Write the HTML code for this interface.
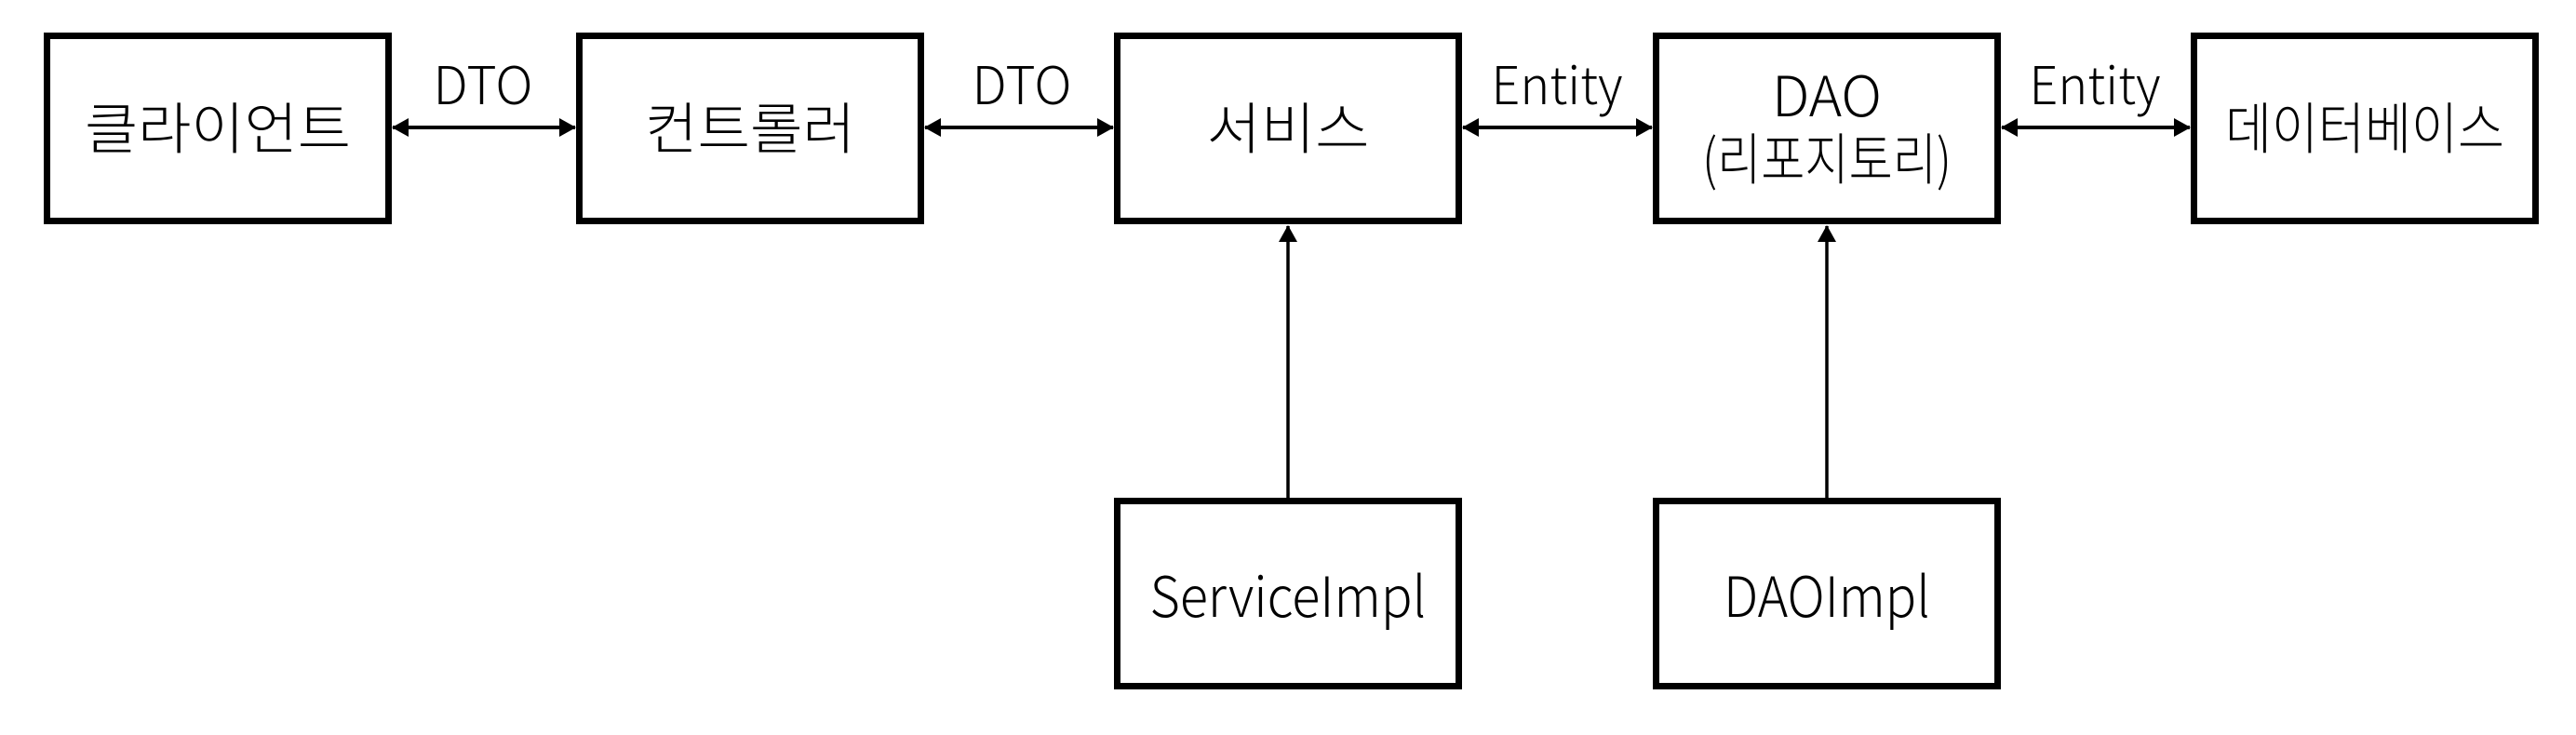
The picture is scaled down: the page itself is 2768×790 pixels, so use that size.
<!DOCTYPE html>
<html><head><meta charset="utf-8"><style>
html,body{margin:0;padding:0;background:#fff;}
svg{display:block;}
text{font-family:"Noto Sans CJK KR","Liberation Sans",sans-serif;fill:#000;font-weight:300;}
</style></head><body>
<svg width="2768" height="790" viewBox="0 0 2768 790" xmlns="http://www.w3.org/2000/svg">
<defs>
<marker id="a" viewBox="0 0 18 20" refX="17" refY="10" markerWidth="18" markerHeight="20" markerUnits="userSpaceOnUse" orient="auto-start-reverse">
<path d="M0,0 L18,10 L0,20 Z" fill="#000"/>
</marker>
</defs>
<g fill="none" stroke="#000" stroke-width="7">
<rect x="50.5" y="38.5" width="367" height="199"/>
<rect x="622.5" y="38.5" width="367" height="199"/>
<rect x="1200.5" y="38.5" width="367" height="199"/>
<rect x="1779.5" y="38.5" width="367" height="199"/>
<rect x="2357.5" y="38.5" width="367" height="199"/>
<rect x="1200.5" y="538.5" width="367" height="199"/>
<rect x="1779.5" y="538.5" width="367" height="199"/>
</g>
<g stroke="#000" stroke-width="4" fill="none">
<line x1="422" y1="137" x2="618" y2="137" marker-start="url(#a)" marker-end="url(#a)"/>
<line x1="994" y1="137" x2="1196" y2="137" marker-start="url(#a)" marker-end="url(#a)"/>
<line x1="1572" y1="137" x2="1775" y2="137" marker-start="url(#a)" marker-end="url(#a)"/>
<line x1="2151" y1="137" x2="2353" y2="137" marker-start="url(#a)" marker-end="url(#a)"/>
</g>
<g stroke="#000" stroke-width="3.5" fill="none">
<line x1="1384" y1="535" x2="1384" y2="243" marker-end="url(#a)"/>
<line x1="1963" y1="535" x2="1963" y2="243" marker-end="url(#a)"/>
</g>
<g font-size="60" text-anchor="middle" lengthAdjust="spacingAndGlyphs">
<text x="234" y="160" textLength="286" lengthAdjust="spacingAndGlyphs">클라이언트</text>
<text x="806" y="160" textLength="226" lengthAdjust="spacingAndGlyphs">컨트롤러</text>
<text x="1384" y="160" textLength="175" lengthAdjust="spacingAndGlyphs">서비스</text>
<text x="1963" y="125" textLength="118" lengthAdjust="spacingAndGlyphs">DAO</text>
<text x="1963" y="193" textLength="268" lengthAdjust="spacingAndGlyphs">(리포지토리)</text>
<text x="2541" y="160" textLength="300" lengthAdjust="spacingAndGlyphs">데이터베이스</text>
<text x="1384" y="663" textLength="297" lengthAdjust="spacingAndGlyphs">ServiceImpl</text>
<text x="1963" y="663" textLength="222" lengthAdjust="spacingAndGlyphs">DAOImpl</text>
</g>
<g font-size="56" text-anchor="middle">
<text x="519" y="112" textLength="107" lengthAdjust="spacingAndGlyphs">DTO</text>
<text x="1098" y="112" textLength="107" lengthAdjust="spacingAndGlyphs">DTO</text>
<text x="1673" y="112" textLength="141" lengthAdjust="spacingAndGlyphs">Entity</text>
<text x="2251" y="112" textLength="141" lengthAdjust="spacingAndGlyphs">Entity</text>
</g>
</svg>
</body></html>
